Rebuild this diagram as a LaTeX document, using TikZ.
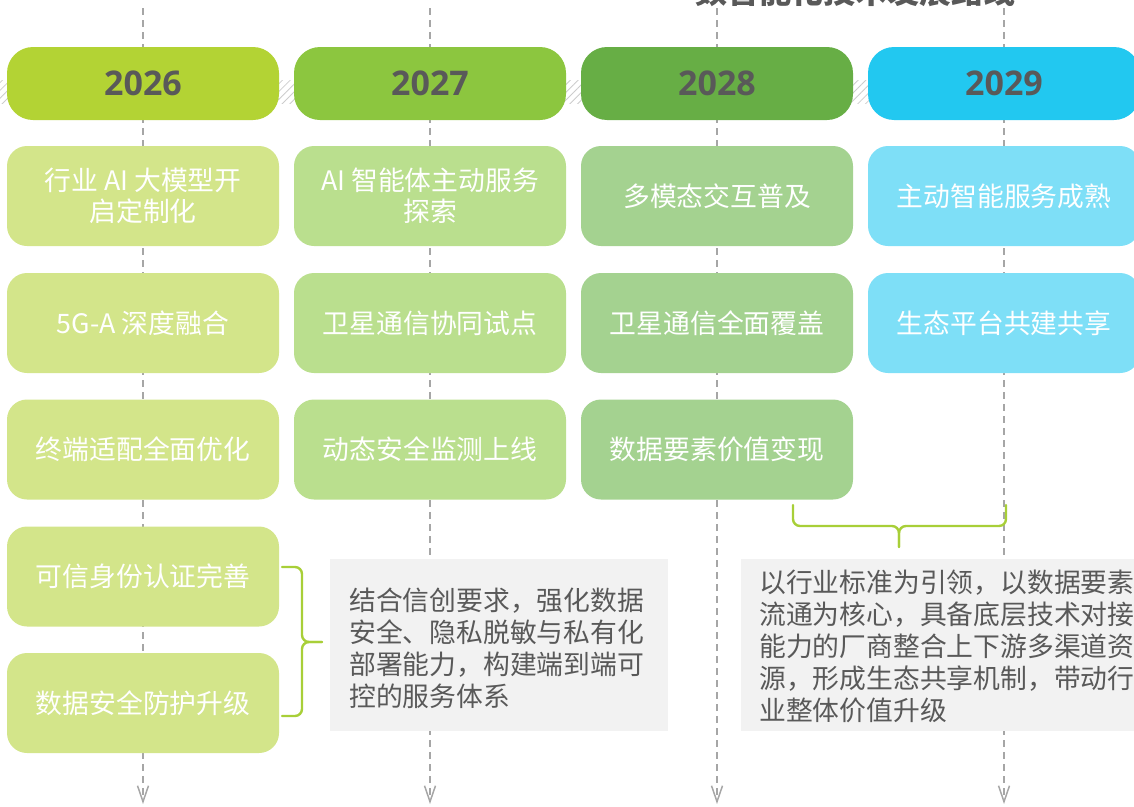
\documentclass[tikz,border=0pt]{standalone}
\usepackage{fontspec}
\newfontfamily\cjk{Noto Sans CJK SC}
\newfontfamily\yearfont{Open Sans}
\usetikzlibrary{arrows.meta,patterns.meta}
\definecolor{hA}{HTML}{B3D334}
\definecolor{hB}{HTML}{8CC63F}
\definecolor{hC}{HTML}{67AE45}
\definecolor{hD}{HTML}{22C8F0}
\definecolor{cA}{HTML}{D3E58A}
\definecolor{cB}{HTML}{BADF8E}
\definecolor{cC}{HTML}{A4D290}
\definecolor{cD}{HTML}{7EDFF7}
\definecolor{txtgray}{HTML}{595959}
\definecolor{linegray}{HTML}{A6A6A6}
\definecolor{boxgray}{HTML}{F2F2F2}
\definecolor{bracegreen}{HTML}{A8CF38}
\tikzset{
  header/.style={rounded corners=26pt, minimum width=272pt, minimum height=73pt, inner sep=0pt,
    font=\yearfont\bfseries\fontsize{34}{40}\selectfont, text=txtgray},
  cell/.style={rounded corners=20pt, minimum width=272pt, minimum height=100pt, inner sep=0pt,
    align=center, text=white, font=\cjk\fontsize{26.8}{31}\selectfont},
  timeline/.style={draw=linegray, line width=1.5pt, dash pattern=on 7pt off 5pt,
    -{Straight Barb[length=16pt,width=11pt,line width=1.5pt]}},
  notebox/.style={fill=boxgray, inner sep=0pt},
  notetext/.style={align=left, inner sep=0pt, text=txtgray, font=\cjk\fontsize{26.8}{32}\selectfont},
  bracket/.style={draw=bracegreen, line width=2.4pt, rounded corners=7pt, line cap=round},
}
\begin{document}
\begin{tikzpicture}[x=1pt,y=-1pt]
\useasboundingbox (0,0) rectangle (1134,806);
% title (clipped at top, as in the reference)
\node[anchor=base, text=txtgray, font=\cjk\bfseries\fontsize{32}{36}\selectfont] (title) at (855,3) {数智能化技术发展路线};
% timelines
\foreach \i/\x in {1/143,2/430,3/717,4/1004}{
  \coordinate (t\i) at (\x,8);
  \coordinate (b\i) at (\x,804);
  \draw[timeline] (t\i) -- (b\i);
}
% hatched band
\fill[pattern={Lines[angle=45,distance=5.5pt,line width=0.8pt]}, pattern color=gray!40] (0,80) rectangle (1134,103);
% headers
\node[header, fill=hA] (y1) at (143,83.5) {2026};
\node[header, fill=hB] (y2) at (430,83.5) {2027};
\node[header, fill=hC] (y3) at (717,83.5) {2028};
\node[header, fill=hD] (y4) at (1004,83.5) {2029};
% column 1
\node[cell, fill=cA] (a1) at (143,196) {行业 AI 大模型开\\启定制化};
\node[cell, fill=cA] (a2) at (143,323) {5G-A 深度融合};
\node[cell, fill=cA] (a3) at (143,449.5) {终端适配全面优化};
\node[cell, fill=cA] (a4) at (143,576.5) {可信身份认证完善};
\node[cell, fill=cA] (a5) at (143,703) {数据安全防护升级};
% column 2
\node[cell, fill=cB] (b1n) at (430,196) {AI 智能体主动服务\\探索};
\node[cell, fill=cB] (b2n) at (430,323) {卫星通信协同试点};
\node[cell, fill=cB] (b3n) at (430,449.5) {动态安全监测上线};
% column 3
\node[cell, fill=cC] (c1) at (717,196) {多模态交互普及};
\node[cell, fill=cC] (c2) at (717,323) {卫星通信全面覆盖};
\node[cell, fill=cC] (c3) at (717,449.5) {数据要素价值变现};
% column 4
\node[cell, fill=cD] (d1) at (1004,196) {主动智能服务成熟};
\node[cell, fill=cD] (d2) at (1004,323) {生态平台共建共享};
% note boxes
\node[notebox, minimum width=338pt, minimum height=172pt] (n1) at (499,645) {};
\node[notetext, anchor=west] (n1t) at (349,648) {结合信创要求，强化数据\\安全、隐私脱敏与私有化\\部署能力，构建端到端可\\控的服务体系};
\node[notebox, minimum width=399pt, minimum height=172pt] (n2) at (940.5,645) {};
\node[notetext, anchor=west] (n2t) at (759,646) {以行业标准为引领，以数据要素\\流通为核心，具备底层技术对接\\能力的厂商整合上下游多渠道资\\源，形成生态共享机制，带动行\\业整体价值升级};
% bracket 1 (vertical, tip to the right)
\coordinate (br1s) at (282,567);
\coordinate (br1t) at (322,642);
\coordinate (br1e) at (282,716);
\draw[bracket] (br1s) -- (302,567) -- (302,642) -- (br1t);
\draw[bracket] (br1t) -- (302,642) -- (302,716) -- (br1e);
% bracket 2 (horizontal, tip downward)
\coordinate (br2s) at (793,505);
\coordinate (br2t) at (899,547);
\coordinate (br2e) at (1006,505);
\draw[bracket] (br2s) -- (793,526) -- (899,526) -- (br2t);
\draw[bracket] (br2t) -- (899,526) -- (1006,526) -- (br2e);
\end{tikzpicture}
\end{document}
